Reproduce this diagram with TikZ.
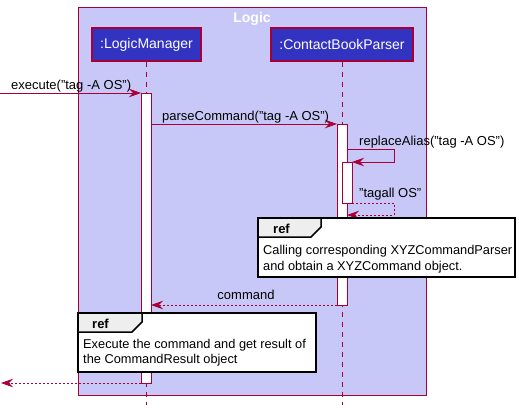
\documentclass[tikz,border=0pt]{standalone}
\usepackage{fontspec}
\setmainfont{Liberation Sans}
\usetikzlibrary{arrows.meta}
\definecolor{crim}{HTML}{A80036}
\definecolor{lav}{HTML}{C8C8F8}
\definecolor{pblue}{HTML}{3333C2}
\definecolor{tabgray}{HTML}{EEEEEE}
\tikzset{
  msg/.style={draw=crim, line width=0.9pt, -{Stealth[length=12pt,width=8.5pt,inset=4pt]}},
  ret/.style={msg, dash pattern=on 2pt off 2pt},
  lifeline/.style={draw=crim, line width=0.9pt, dash pattern=on 5pt off 5pt},
  actbox/.style={draw=crim, fill=white, line width=0.9pt},
  partbox/.style={draw=crim, fill=pblue, line width=1.2pt, text=white, font=\fontsize{14}{16}\selectfont, minimum height=33pt, inner sep=0pt},
  lbl/.style={inner sep=0pt, font=\fontsize{13}{15}\selectfont, anchor=base west},
  reftxt/.style={inner sep=0pt, font=\fontsize{12.8}{15}\selectfont, anchor=base west},
  refbox/.style={draw=black, fill=white, line width=1.5pt},
  reftab/.style={draw=black, fill=tabgray, line width=1.5pt},
  refhead/.style={inner sep=0pt, font=\fontsize{13}{15}\selectfont\bfseries, anchor=base west},
}
\begin{document}
\begin{tikzpicture}[x=1pt,y=-1pt]
\useasboundingbox (0,0) rectangle (519,407);
% Logic box
\draw[crim, fill=lav, line width=0.9pt] (78,7) rectangle (426,395);
\node[text=white, font=\fontsize{14}{16}\selectfont\bfseries, inner sep=0pt, anchor=base] (title) at (252,22) {Logic};
% participants
\node[partbox, minimum width=109pt] (lm) at (146.5,44.5) {:LogicManager};
\node[partbox, minimum width=142pt] (cbp) at (342,44.5) {:ContactBookParser};
% lifelines
\coordinate (lmend) at (146,405);
\coordinate (cbpend) at (342,405);
\draw[lifeline] (lm.south -| lmend) -- (lmend);
\draw[lifeline] (cbp.south -| cbpend) -- (cbpend);
% activations
\draw[actbox] (141,93) rectangle (151,383);
\draw[actbox] (337,124) rectangle (347,305);
\draw[actbox] (342,162) rectangle (352,203);
% coordinates
\coordinate (start) at (0,93);
\coordinate (lmA) at (141,93);
\coordinate (lmB) at (151,124);
\coordinate (cbpA) at (337,124);
\coordinate (sa) at (347,149);
\coordinate (sb) at (394,149);
\coordinate (sc) at (394,162);
\coordinate (sd) at (352,162);
\coordinate (ra) at (352,203);
\coordinate (rb) at (394,203);
\coordinate (rc) at (394,215);
\coordinate (rd) at (347,215);
\coordinate (cmdA) at (337,305);
\coordinate (cmdB) at (151,305);
\coordinate (finA) at (141,383);
\coordinate (finB) at (1,383);
% messages
\draw[msg] (start) -- (lmA);
\node[lbl] (l1) at (11,89) {execute("tag -A OS")};
\draw[msg] (lmB) -- (cbpA);
\node[lbl] (l2) at (162,120) {parseCommand("tag -A OS")};
\draw[msg] (sa) -- (sb) -- (sc) -- (sd);
\node[lbl] (l3) at (359,145) {replaceAlias("tag -A OS")};
\draw[ret] (ra) -- (rb) -- (rc) -- (rd);
\node[lbl] (l4) at (359,197) {"tagall OS"};
\draw[ret] (cmdA) -- (cmdB);
\node[lbl, anchor=base] (l5) at (246,299) {command};
\draw[ret] (finA) -- (finB);
% ref 1
\draw[refbox] (258,218) rectangle (515,277);
\draw[reftab] (258,218) -- (321,218) -- (321,227) -- (311,237) -- (258,237) -- cycle;
\node[refhead] (r1h) at (273,233) {ref};
\node[reftxt] (r1a) at (263,254) {Calling corresponding XYZCommandParser};
\node[reftxt] (r1b) at (263,270) {and obtain a XYZCommand object.};
% ref 2
\draw[refbox] (78,313) rectangle (316,372);
\draw[reftab] (78,313) -- (142,313) -- (142,322) -- (132,332) -- (78,332) -- cycle;
\node[refhead] (r2h) at (92,328) {ref};
\node[reftxt] (r2a) at (83,348) {Execute the command and get result of};
\node[reftxt] (r2b) at (83,363) {the CommandResult object};
\end{tikzpicture}
\end{document}
